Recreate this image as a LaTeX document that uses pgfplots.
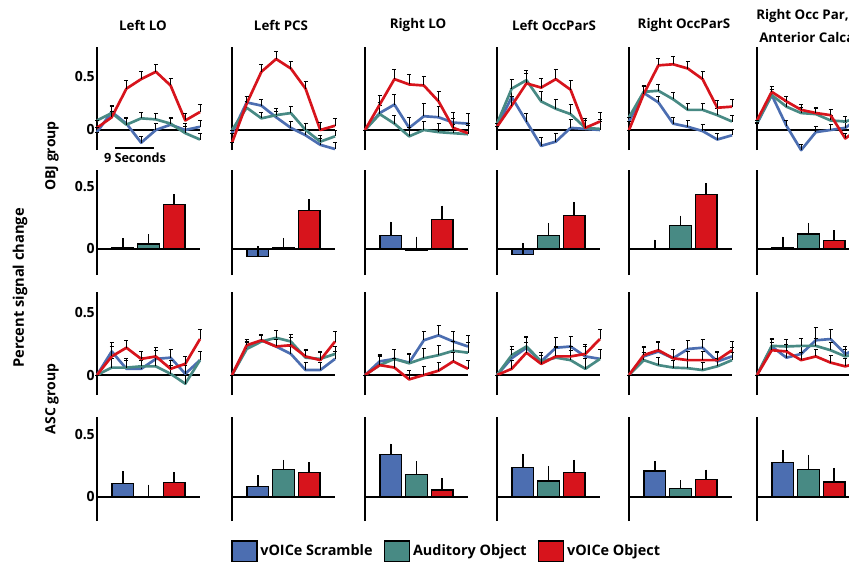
\documentclass[border=0pt]{standalone}
\usepackage{fontspec}
\setmainfont{Open Sans}
\usepackage{pgfplots}
\pgfplotsset{compat=1.18}
\definecolor{cblue}{RGB}{76,110,177}
\definecolor{cteal}{RGB}{72,138,132}
\definecolor{cred}{RGB}{215,20,28}
\pgfplotsset{
  panel/.style={scale only axis, width=77.25pt, axis x line=middle, axis y line=left,
    axis line style={-, line width=1.5pt, black}, xtick=\empty, ytick=\empty,
    anchor=south west, clip=false},
  tc/.style={panel, xmin=0, xmax=7},
  bars/.style={panel, xmin=0, xmax=4},
  r1/.style={tc, height=77.25pt, ymin=-0.189, ymax=0.783},
  r2/.style={bars, height=78.75pt, ymin=-0.21, ymax=0.637},
  r3/.style={tc, height=77.25pt, ymin=-0.161, ymax=0.669},
  r4/.style={bars, height=78pt, ymin=-0.194, ymax=0.645},
  first/.style={ytick={0,0.5}, yticklabels={0,0.5}, major tick length=0pt,
    yticklabel style={font=\bfseries\fontsize{10.5}{12}\selectfont, inner sep=1.5pt}},
  tcl/.style={line width=2pt, line join=round, error bars/.cd, y dir=plus, y explicit,
    error bar style={black, line width=0.6pt},
    error mark options={rotate=90, mark size=1.5pt, black, line width=0.6pt, solid}},
  brs/.style={ybar, bar shift=0pt, bar width=0.84, draw=black, line width=1pt,
    error bars/.cd, y dir=plus, y explicit, error mark=none,
    error bar style={black, line width=1.2pt}},
}
\newcommand{\TC}[2]{\addplot[#1, tcl] coordinates {#2};}
\newcommand{\BR}[3]{\addplot[fill=#1, brs] coordinates {#2 +- (0,#3)};}
\begin{document}
\begin{tikzpicture}
\useasboundingbox (0,0) rectangle (636.75pt,-421.5pt);
\tikzset{ttl/.style={font=\bfseries\fontsize{10}{12}\selectfont}}
% titles
\node[ttl] at (107.25pt,-18.75pt) {Left LO};
\node[ttl] at (210.75pt,-18.75pt) {Left PCS};
\node[ttl] at (313.5pt,-18.75pt) {Right LO};
\node[ttl] at (415.5pt,-18.75pt) {Left OccParS};
\node[ttl] at (513pt,-18.75pt) {Right OccParS};
\node[ttl, anchor=west, inner sep=0pt] at (567pt,-12pt) {Right Occ Par,};
\node[ttl, anchor=west, inner sep=0pt] at (569.25pt,-27.75pt) {Anterior Calcarine};
% y labels
\node[rotate=90, font=\bfseries\fontsize{11}{13}\selectfont] at (15pt,-216pt) {Percent signal change};
\node[rotate=90, font=\bfseries\fontsize{10.5}{12}\selectfont] at (39pt,-117pt) {OBJ group};
\node[rotate=90, font=\bfseries\fontsize{10.5}{12}\selectfont] at (39pt,-299.25pt) {ASC group};
% scale bar
\draw[line width=2pt] (86.25pt,-111pt) -- (115.5pt,-111pt);
\node[font=\bfseries\fontsize{9.5}{11}\selectfont] at (101.25pt,-118.5pt) {9 Seconds};

%%%%%%%%%%%%%%%% ROW 1: OBJ time course
\begin{axis}[r1, first, at={(72.75pt,-112.5pt)}]
\TC{cblue}{(0,-0.02)+-(0,0) (1,0.17)+-(0,0.06) (2,0.06)+-(0,0.06) (3,-0.12)+-(0,0.06) (4,0.0)+-(0,0.06) (5,0.05)+-(0,0.06) (6,0.0)+-(0,0.06) (7,0.03)+-(0,0.06)}
\TC{cteal}{(0,0.09)+-(0,0) (1,0.16)+-(0,0.06) (2,0.05)+-(0,0.06) (3,0.11)+-(0,0.06) (4,0.10)+-(0,0.06) (5,0.06)+-(0,0.06) (6,-0.03)+-(0,0.06) (7,-0.09)+-(0,0.06)}
\TC{cred}{(0,0.02)+-(0,0) (1,0.12)+-(0,0.06) (2,0.39)+-(0,0.08) (3,0.48)+-(0,0.07) (4,0.55)+-(0,0.07) (5,0.42)+-(0,0.07) (6,0.09)+-(0,0.07) (7,0.17)+-(0,0.07)}
\end{axis}
\begin{axis}[r1, at={(174pt,-112.5pt)}]
\TC{cblue}{(0,-0.03)+-(0,0) (1,0.26)+-(0,0.06) (2,0.23)+-(0,0.06) (3,0.12)+-(0,0.06) (4,0.02)+-(0,0.06) (5,-0.05)+-(0,0.06) (6,-0.14)+-(0,0.06) (7,-0.18)+-(0,0.06)}
\TC{cteal}{(0,0.0)+-(0,0) (1,0.21)+-(0,0.06) (2,0.11)+-(0,0.06) (3,0.14)+-(0,0.06) (4,0.16)+-(0,0.06) (5,0.0)+-(0,0.06) (6,-0.11)+-(0,0.06) (7,-0.06)+-(0,0.06)}
\TC{cred}{(0,-0.12)+-(0,0) (1,0.25)+-(0,0.07) (2,0.55)+-(0,0.07) (3,0.67)+-(0,0.07) (4,0.58)+-(0,0.07) (5,0.39)+-(0,0.07) (6,0.0)+-(0,0.07) (7,0.04)+-(0,0.07)}
\end{axis}
\begin{axis}[r1, at={(273.75pt,-112.5pt)}]
\TC{cblue}{(0,0)+-(0,0) (1,0.16)+-(0,0.1) (2,0.24)+-(0,0.1) (3,0.02)+-(0,0.1) (4,0.13)+-(0,0.12) (5,0.12)+-(0,0.1) (6,0.07)+-(0,0.1) (7,0.06)+-(0,0.1)}
\TC{cteal}{(0,0)+-(0,0) (1,0.15)+-(0,0.08) (2,0.06)+-(0,0.08) (3,-0.06)+-(0,0.08) (4,0.0)+-(0,0.08) (5,-0.02)+-(0,0.08) (6,-0.03)+-(0,0.08) (7,-0.04)+-(0,0.08)}
\TC{cred}{(0,0)+-(0,0) (1,0.24)+-(0,0.09) (2,0.48)+-(0,0.09) (3,0.43)+-(0,0.09) (4,0.42)+-(0,0.09) (5,0.27)+-(0,0.09) (6,0.02)+-(0,0.09) (7,-0.03)+-(0,0.09)}
\end{axis}
\begin{axis}[r1, at={(372.75pt,-112.5pt)}]
\TC{cblue}{(0,0.03)+-(0,0) (1,0.31)+-(0,0.08) (2,0.08)+-(0,0.08) (3,-0.15)+-(0,0.08) (4,-0.11)+-(0,0.08) (5,0.02)+-(0,0.08) (6,0.01)+-(0,0.08) (7,0.0)+-(0,0.08)}
\TC{cteal}{(0,0.06)+-(0,0) (1,0.39)+-(0,0.09) (2,0.47)+-(0,0.09) (3,0.27)+-(0,0.09) (4,0.20)+-(0,0.09) (5,0.15)+-(0,0.09) (6,0.02)+-(0,0.09) (7,0.01)+-(0,0.09)}
\TC{cred}{(0,0.03)+-(0,0) (1,0.23)+-(0,0.09) (2,0.44)+-(0,0.09) (3,0.40)+-(0,0.09) (4,0.48)+-(0,0.09) (5,0.38)+-(0,0.09) (6,0.02)+-(0,0.09) (7,0.08)+-(0,0.09)}
\end{axis}
\begin{axis}[r1, at={(471.75pt,-112.5pt)}]
\TC{cblue}{(0,0.08)+-(0,0) (1,0.35)+-(0,0.06) (2,0.26)+-(0,0.06) (3,0.06)+-(0,0.06) (4,0.03)+-(0,0.06) (5,-0.01)+-(0,0.06) (6,-0.09)+-(0,0.06) (7,-0.05)+-(0,0.06)}
\TC{cteal}{(0,0.12)+-(0,0) (1,0.36)+-(0,0.06) (2,0.37)+-(0,0.06) (3,0.29)+-(0,0.06) (4,0.19)+-(0,0.06) (5,0.19)+-(0,0.06) (6,0.14)+-(0,0.06) (7,0.08)+-(0,0.06)}
\TC{cred}{(0,0)+-(0,0) (1,0.34)+-(0,0.07) (2,0.61)+-(0,0.07) (3,0.62)+-(0,0.07) (4,0.58)+-(0,0.07) (5,0.48)+-(0,0.07) (6,0.21)+-(0,0.07) (7,0.22)+-(0,0.07)}
\end{axis}
\begin{axis}[r1, at={(567.75pt,-112.5pt)}]
\TC{cblue}{(0,0.06)+-(0,0) (1,0.33)+-(0,0.05) (2,0.04)+-(0,0.05) (3,-0.19)+-(0,0.05) (4,-0.02)+-(0,0.05) (5,0.0)+-(0,0.05) (6,0.02)+-(0,0.05) (7,0.12)+-(0,0.05)}
\TC{cteal}{(0,0.07)+-(0,0) (1,0.33)+-(0,0.05) (2,0.22)+-(0,0.05) (3,0.16)+-(0,0.05) (4,0.15)+-(0,0.05) (5,0.09)+-(0,0.05) (6,0.08)+-(0,0.05) (7,0.12)+-(0,0.05)}
\TC{cred}{(0,0.09)+-(0,0) (1,0.36)+-(0,0.05) (2,0.27)+-(0,0.05) (3,0.19)+-(0,0.05) (4,0.16)+-(0,0.05) (5,0.14)+-(0,0.05) (6,-0.08)+-(0,0.05) (7,0.02)+-(0,0.05)}
\end{axis}

%%%%%%%%%%%%%%%% ROW 2: OBJ bars
\begin{axis}[r2, first, at={(72.75pt,-206.25pt)}]
\BR{cblue}{(1,0.01)}{0.075}\BR{cteal}{(2,0.04)}{0.08}\BR{cred}{(3,0.36)}{0.08}
\end{axis}
\begin{axis}[r2, at={(174pt,-206.25pt)}]
\BR{cblue}{(1,-0.06)}{0.085}\BR{cteal}{(2,0.01)}{0.08}\BR{cred}{(3,0.31)}{0.09}
\end{axis}
\begin{axis}[r2, at={(273.75pt,-206.25pt)}]
\BR{cblue}{(1,0.11)}{0.11}\BR{cteal}{(2,-0.01)}{0.11}\BR{cred}{(3,0.24)}{0.11}
\end{axis}
\begin{axis}[r2, at={(372.75pt,-206.25pt)}]
\BR{cblue}{(1,-0.045)}{0.095}\BR{cteal}{(2,0.11)}{0.10}\BR{cred}{(3,0.27)}{0.105}
\end{axis}
\begin{axis}[r2, at={(471.75pt,-206.25pt)}]
\BR{cblue}{(1,-0.005)}{0.08}\BR{cteal}{(2,0.19)}{0.08}\BR{cred}{(3,0.44)}{0.09}
\end{axis}
\begin{axis}[r2, at={(567.75pt,-206.25pt)}]
\BR{cblue}{(1,0.01)}{0.09}\BR{cteal}{(2,0.12)}{0.09}\BR{cred}{(3,0.07)}{0.08}
\end{axis}

%%%%%%%%%%%%%%%% ROW 3: ASC time course
\begin{axis}[r3, first, at={(72.75pt,-296.25pt)}]
\TC{cblue}{(0,0)+-(0,0) (1,0.19)+-(0,0.07) (2,0.05)+-(0,0.07) (3,0.05)+-(0,0.07) (4,0.13)+-(0,0.07) (5,0.14)+-(0,0.07) (6,0.01)+-(0,0.07) (7,0.12)+-(0,0.07)}
\TC{cteal}{(0,0)+-(0,0) (1,0.06)+-(0,0.07) (2,0.06)+-(0,0.07) (3,0.07)+-(0,0.07) (4,0.07)+-(0,0.07) (5,0.01)+-(0,0.07) (6,-0.07)+-(0,0.07) (7,0.12)+-(0,0.07)}
\TC{cred}{(0,0)+-(0,0) (1,0.15)+-(0,0.08) (2,0.22)+-(0,0.06) (3,0.13)+-(0,0.06) (4,0.15)+-(0,0.07) (5,0.05)+-(0,0.07) (6,0.09)+-(0,0.06) (7,0.29)+-(0,0.075)}
\end{axis}
\begin{axis}[r3, at={(174pt,-296.25pt)}]
\TC{cblue}{(0,0)+-(0,0) (1,0.22)+-(0,0.05) (2,0.28)+-(0,0.05) (3,0.23)+-(0,0.06) (4,0.17)+-(0,0.06) (5,0.04)+-(0,0.06) (6,0.04)+-(0,0.06) (7,0.13)+-(0,0.06)}
\TC{cteal}{(0,0)+-(0,0) (1,0.21)+-(0,0.05) (2,0.27)+-(0,0.05) (3,0.30)+-(0,0.06) (4,0.27)+-(0,0.06) (5,0.14)+-(0,0.06) (6,0.13)+-(0,0.06) (7,0.17)+-(0,0.06)}
\TC{cred}{(0,0)+-(0,0) (1,0.24)+-(0,0.05) (2,0.28)+-(0,0.05) (3,0.23)+-(0,0.06) (4,0.24)+-(0,0.06) (5,0.15)+-(0,0.06) (6,0.12)+-(0,0.06) (7,0.27)+-(0,0.08)}
\end{axis}
\begin{axis}[r3, at={(273.75pt,-296.25pt)}]
\TC{cblue}{(0,0)+-(0,0) (1,0.11)+-(0,0.06) (2,0.13)+-(0,0.08) (3,0.10)+-(0,0.07) (4,0.28)+-(0,0.07) (5,0.32)+-(0,0.08) (6,0.27)+-(0,0.08) (7,0.23)+-(0,0.09)}
\TC{cteal}{(0,0)+-(0,0) (1,0.08)+-(0,0.08) (2,0.13)+-(0,0.08) (3,0.095)+-(0,0.08) (4,0.135)+-(0,0.08) (5,0.16)+-(0,0.08) (6,0.195)+-(0,0.08) (7,0.18)+-(0,0.08)}
\TC{cred}{(0,0)+-(0,0) (1,0.08)+-(0,0.07) (2,0.06)+-(0,0.07) (3,-0.035)+-(0,0.07) (4,0.0)+-(0,0.07) (5,0.035)+-(0,0.07) (6,0.11)+-(0,0.07) (7,0.05)+-(0,0.07)}
\end{axis}
\begin{axis}[r3, at={(372.75pt,-296.25pt)}]
\TC{cblue}{(0,0)+-(0,0) (1,0.135)+-(0,0.07) (2,0.22)+-(0,0.08) (3,0.11)+-(0,0.07) (4,0.22)+-(0,0.08) (5,0.23)+-(0,0.08) (6,0.15)+-(0,0.08) (7,0.13)+-(0,0.08)}
\TC{cteal}{(0,0)+-(0,0) (1,0.16)+-(0,0.07) (2,0.23)+-(0,0.08) (3,0.11)+-(0,0.07) (4,0.14)+-(0,0.08) (5,0.12)+-(0,0.08) (6,0.05)+-(0,0.08) (7,0.13)+-(0,0.08)}
\TC{cred}{(0,0)+-(0,0) (1,0.05)+-(0,0.07) (2,0.18)+-(0,0.08) (3,0.09)+-(0,0.07) (4,0.15)+-(0,0.08) (5,0.15)+-(0,0.08) (6,0.17)+-(0,0.08) (7,0.29)+-(0,0.08)}
\end{axis}
\begin{axis}[r3, at={(471.75pt,-296.25pt)}]
\TC{cblue}{(0,0)+-(0,0) (1,0.15)+-(0,0.07) (2,0.19)+-(0,0.07) (3,0.135)+-(0,0.07) (4,0.21)+-(0,0.07) (5,0.22)+-(0,0.07) (6,0.11)+-(0,0.07) (7,0.15)+-(0,0.07)}
\TC{cteal}{(0,0)+-(0,0) (1,0.12)+-(0,0.06) (2,0.08)+-(0,0.06) (3,0.06)+-(0,0.06) (4,0.055)+-(0,0.06) (5,0.04)+-(0,0.06) (6,0.07)+-(0,0.06) (7,0.12)+-(0,0.06)}
\TC{cred}{(0,0)+-(0,0) (1,0.16)+-(0,0.07) (2,0.20)+-(0,0.07) (3,0.135)+-(0,0.07) (4,0.12)+-(0,0.07) (5,0.12)+-(0,0.07) (6,0.12)+-(0,0.07) (7,0.20)+-(0,0.07)}
\end{axis}
\begin{axis}[r3, at={(567.75pt,-296.25pt)}]
\TC{cblue}{(0,0)+-(0,0) (1,0.23)+-(0,0.06) (2,0.14)+-(0,0.06) (3,0.17)+-(0,0.06) (4,0.28)+-(0,0.1) (5,0.29)+-(0,0.08) (6,0.17)+-(0,0.06) (7,0.22)+-(0,0.06)}
\TC{cteal}{(0,0)+-(0,0) (1,0.235)+-(0,0.06) (2,0.23)+-(0,0.06) (3,0.235)+-(0,0.06) (4,0.235)+-(0,0.06) (5,0.20)+-(0,0.06) (6,0.15)+-(0,0.06) (7,0.18)+-(0,0.06)}
\TC{cred}{(0,0)+-(0,0) (1,0.20)+-(0,0.06) (2,0.19)+-(0,0.06) (3,0.12)+-(0,0.06) (4,0.15)+-(0,0.06) (5,0.10)+-(0,0.06) (6,0.07)+-(0,0.06) (7,0.10)+-(0,0.06)}
\end{axis}

%%%%%%%%%%%%%%%% ROW 4: ASC bars
\begin{axis}[r4, first, at={(72.75pt,-390.75pt)}]
\BR{cblue}{(1,0.11)}{0.10}\BR{cteal}{(2,0.0)}{0.10}\BR{cred}{(3,0.115)}{0.085}
\end{axis}
\begin{axis}[r4, at={(174pt,-390.75pt)}]
\BR{cblue}{(1,0.085)}{0.09}\BR{cteal}{(2,0.22)}{0.08}\BR{cred}{(3,0.20)}{0.08}
\end{axis}
\begin{axis}[r4, at={(273.75pt,-390.75pt)},
  legend style={at={(0.796,-0.29)}, anchor=center, draw=none, fill=none,
    legend columns=3, font=\bfseries\fontsize{10.8}{13}\selectfont,
    /tikz/every even column/.append style={column sep=6.5pt}}]
\addlegendimage{legend image code/.code={\draw[fill=cblue, draw=black, line width=1pt] (0pt,-7.7pt) rectangle (18.8pt,7.7pt);}}
\addlegendentry{vOICe Scramble}
\addlegendimage{legend image code/.code={\draw[fill=cteal, draw=black, line width=1pt] (0pt,-7.7pt) rectangle (18.8pt,7.7pt);}}
\addlegendentry{Auditory Object}
\addlegendimage{legend image code/.code={\draw[fill=cred, draw=black, line width=1pt] (0pt,-7.7pt) rectangle (18.8pt,7.7pt);}}
\addlegendentry{vOICe Object}
\BR{cblue}{(1,0.34)}{0.09}\BR{cteal}{(2,0.18)}{0.11}\BR{cred}{(3,0.055)}{0.095}
\end{axis}
\begin{axis}[r4, at={(372.75pt,-390.75pt)}]
\BR{cblue}{(1,0.24)}{0.11}\BR{cteal}{(2,0.13)}{0.12}\BR{cred}{(3,0.20)}{0.10}
\end{axis}
\begin{axis}[r4, at={(471.75pt,-390.75pt)}]
\BR{cblue}{(1,0.21)}{0.08}\BR{cteal}{(2,0.07)}{0.065}\BR{cred}{(3,0.14)}{0.08}
\end{axis}
\begin{axis}[r4, at={(567.75pt,-390.75pt)}]
\BR{cblue}{(1,0.28)}{0.10}\BR{cteal}{(2,0.22)}{0.12}\BR{cred}{(3,0.12)}{0.115}
\end{axis}
\end{tikzpicture}
\end{document}
